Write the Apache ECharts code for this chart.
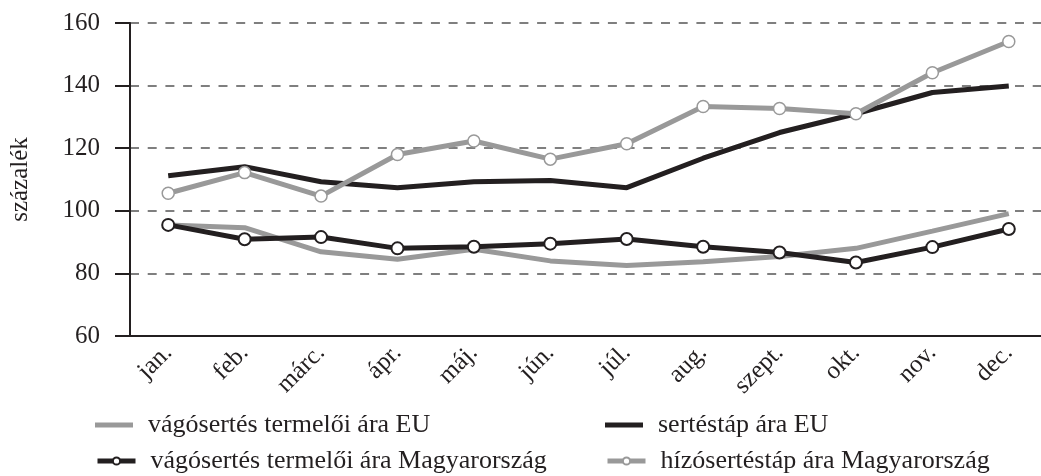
<!DOCTYPE html>
<html>
<head>
<meta charset="utf-8">
<script src="https://cdn.jsdelivr.net/npm/echarts@6/dist/echarts.min.js"></script>
<style>
  html, body { margin: 0; padding: 0; background: #fff; }
  #main { width: 1041px; height: 476px; }
</style>
</head>
<body>
<div id="main"></div>
<script>
// adatok
var months = ['jan.', 'feb.', 'márc.', 'ápr.', 'máj.', 'jún.', 'júl.', 'aug.', 'szept.', 'okt.', 'nov.', 'dec.'];
var vagoEU = [95.5, 94.6, 86.9, 84.5, 87.7, 84.0, 82.5, 83.7, 85.4, 88.0, 93.5, 99.1];
var tapEU = [111.2, 114.1, 109.3, 107.4, 109.3, 109.7, 107.4, 116.8, 125.0, 131.0, 137.8, 139.9];
var vagoHU = [95.5, 90.9, 91.6, 88.0, 88.5, 89.5, 91.0, 88.5, 86.7, 83.5, 88.4, 94.2];
var hizoHU = [105.6, 112.2, 104.7, 118.0, 122.3, 116.5, 121.4, 133.3, 132.7, 131.0, 144.1, 154.1];
var names = ['vágósertés termelői ára EU', 'sertéstáp ára EU', 'vágósertés termelői ára Magyarország', 'hízósertéstáp ára Magyarország'];

var black = '#231f20';
var grey = '#999999';
var font = '"Liberation Serif", "Times New Roman", serif';

var myChart = echarts.init(document.getElementById('main'));

var legendText = { fontFamily: font, fontSize: 26, color: black, padding: [0, 0, 0, 10] };

// egy jelmagyarázat-elem
function legendItem(name, left, top, plain) {
  var l = {
    data: [plain ? { name: name, icon: 'rect' } : name],
    left: left, top: top,
    itemWidth: 38, itemHeight: plain ? 5 : 9,
    textStyle: legendText
  };
  if (!plain) l.lineStyle = { width: 5 };
  return l;
}

var option = {
  animation: false,
  textStyle: { fontFamily: font },
  grid: { left: 130, right: -6, top: 23, bottom: 140, outerBoundsMode: 'none' },
  legend: [
    legendItem(names[0], 90, 407, true),
    legendItem(names[2], 90, 443, false),
    legendItem(names[1], 600, 407, true),
    legendItem(names[3], 600, 443, false)
  ],
  xAxis: {
    type: 'category',
    data: months,
    boundaryGap: true,
    axisLine: { lineStyle: { color: black, width: 2 } },
    axisTick: { length: 14, lineStyle: { color: black, width: 2 } },
    axisLabel: { rotate: 45, margin: 13, fontFamily: font, fontSize: 25, color: black }
  },
  yAxis: {
    type: 'value',
    min: 60, max: 160, interval: 20,
    name: 'százalék',
    nameLocation: 'middle',
    nameGap: 97,
    nameTextStyle: { fontFamily: font, fontSize: 25, color: black },
    axisLine: { show: true, lineStyle: { color: black, width: 2 } },
    axisTick: { show: true, length: 15, lineStyle: { color: black, width: 2 } },
    axisLabel: { margin: 30, fontFamily: font, fontSize: 25, color: black },
    splitLine: { lineStyle: { color: '#555555', width: 1.5, type: [9, 8.7] } }
  },
  series: [
    {
      name: names[0], type: 'line', data: vagoEU,
      symbol: 'none', color: grey,
      lineStyle: { color: grey, width: 5 }
    },
    {
      name: names[1], type: 'line', data: tapEU,
      symbol: 'none', color: black,
      lineStyle: { color: black, width: 5 }
    },
    {
      name: names[2], type: 'line', data: vagoHU,
      symbol: 'circle', symbolSize: 12, color: black,
      lineStyle: { color: black, width: 5 },
      itemStyle: { color: '#fff', borderColor: black, borderWidth: 2 }
    },
    {
      name: names[3], type: 'line', data: hizoHU,
      symbol: 'circle', symbolSize: 12, color: grey,
      lineStyle: { color: grey, width: 5 },
      itemStyle: { color: '#fff', borderColor: grey, borderWidth: 1.5 }
    }
  ]
};

myChart.setOption(option);
window.onresize = function() {
  myChart.resize();
};
</script>
</body>
</html>
